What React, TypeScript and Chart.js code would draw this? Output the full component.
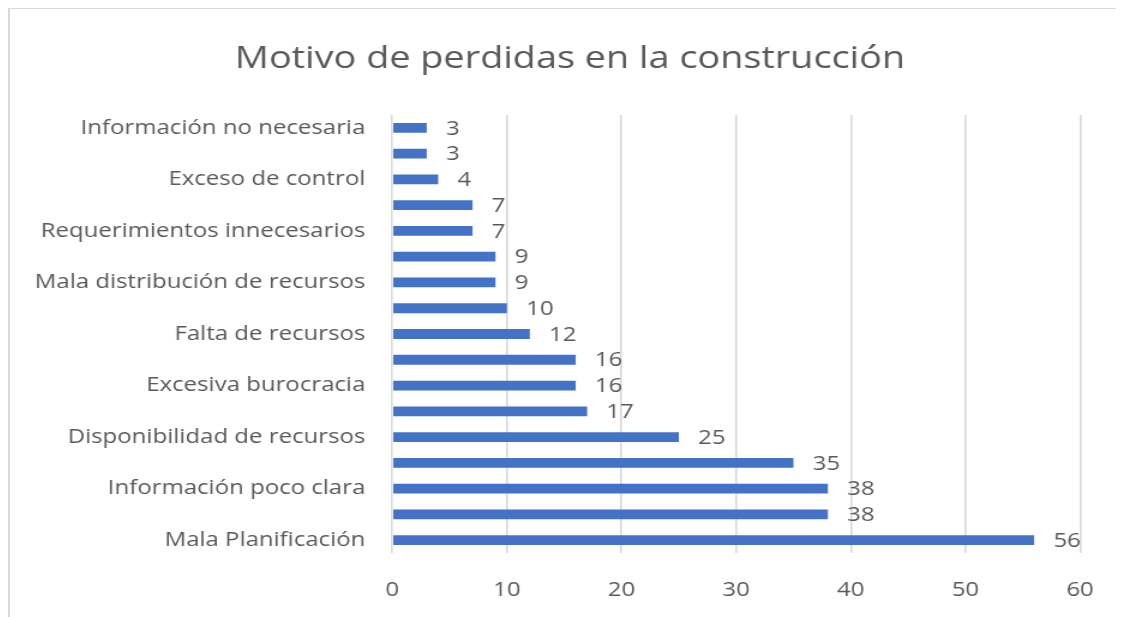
import React, { useEffect, useRef } from "react";
import { Chart, registerables } from "chart.js";

Chart.register(...registerables);

const chartTitle = "Motivo de perdidas en la construcción";
// top to bottom (Excel shows every other category label)
const categories = [
  "Información no necesaria",
  "",
  "Exceso de control",
  "",
  "Requerimientos innecesarios",
  "",
  "Mala distribución de recursos",
  "",
  "Falta de recursos",
  "",
  "Excesiva burocracia",
  "",
  "Disponibilidad de recursos",
  "",
  "Información poco clara",
  "",
  "Mala Planificación",
];
const values = [3, 3, 4, 7, 7, 9, 9, 10, 12, 16, 16, 17, 25, 35, 38, 38, 56];
const xTicks = [0, 10, 20, 30, 40, 50, 60];

const FONT = "'Open Sans', 'Noto Sans', sans-serif";
const TEXT = "#595959";
const BAR = "#4472C4";
const GRID = "#d9d9d9";

// the reference is horizontally stretched; render narrower and stretch with CSS
const CSS_W = 1116;
const CSS_H = 609;
const STRETCH = 1.2;
const LOG_W = Math.round(CSS_W / STRETCH);

const titlePlugin = {
  id: "customTitle",
  afterDraw(chart: any) {
    const ctx = chart.ctx;
    ctx.save();
    ctx.font = `31.5px ${FONT}`;
    ctx.fillStyle = TEXT;
    ctx.textAlign = "center";
    ctx.textBaseline = "middle";
    ctx.fillText(chartTitle, 562 / STRETCH, 51);
    ctx.restore();
  },
};

const labelPlugin = {
  id: "valueLabels",
  afterDatasetsDraw(chart: any) {
    const ctx = chart.ctx;
    const meta = chart.getDatasetMeta(0);
    ctx.save();
    ctx.font = `20px ${FONT}`;
    ctx.fillStyle = TEXT;
    ctx.textAlign = "left";
    ctx.textBaseline = "middle";
    meta.data.forEach((bar: any, i: number) => {
      ctx.fillText(String(values[i]), bar.x + 16, bar.y + 1);
    });
    ctx.restore();
  },
};

export default function App() {
  const ref = useRef<HTMLCanvasElement>(null);
  useEffect(() => {
    if (!ref.current) return;
    const chart = new Chart(ref.current, {
      type: "bar",
      data: {
        labels: categories,
        datasets: [
          {
            data: values,
            backgroundColor: BAR,
            borderWidth: 0,
            categoryPercentage: 1,
            barPercentage: 0.38,
          },
        ],
      },
      options: {
        indexAxis: "y",
        animation: false,
        responsive: false,
        maintainAspectRatio: false,
        devicePixelRatio: 1,
        layout: {
          padding: { top: 107, right: LOG_W - 1072 / STRETCH, left: 0, bottom: 0 },
        },
        plugins: {
          legend: { display: false },
          title: { display: false },
          tooltip: { enabled: false },
        },
        scales: {
          x: {
            min: 0,
            max: 60,
            afterBuildTicks: (scale: any) => {
              scale.ticks = xTicks.map((v) => ({ value: v }));
            },
            afterFit: (scale: any) => {
              scale.height = CSS_H - 545;
            },
            grid: { color: GRID, lineWidth: 1.6, drawTicks: false },
            border: { display: false },
            ticks: {
              color: TEXT,
              font: { family: FONT, size: 20 },
              padding: 25,
            },
          },
          y: {
            afterFit: (scale: any) => {
              scale.width = 384.3 / STRETCH;
            },
            grid: { display: false, drawTicks: false },
            border: { display: false },
            ticks: {
              autoSkip: false,
              color: TEXT,
              font: { family: FONT, size: 20 },
              padding: 22.5,
            },
          },
        },
      },
      plugins: [titlePlugin, labelPlugin],
    });
    return () => chart.destroy();
  }, []);
  return (
    <div
      style={{
        position: "relative",
        width: CSS_W,
        height: CSS_H,
        background: "#fff",
      }}
    >
      <canvas
        ref={ref}
        width={LOG_W}
        height={CSS_H}
        style={{ display: "block", width: CSS_W, height: CSS_H }}
      />
      <div
        style={{
          position: "absolute",
          left: 0,
          top: -1,
          width: CSS_W,
          height: CSS_H + 1,
          borderTop: "2px solid #d9d9d9",
          borderLeft: "2px solid #d9d9d9",
          boxSizing: "border-box",
          pointerEvents: "none",
        }}
      />
    </div>
  );
}
